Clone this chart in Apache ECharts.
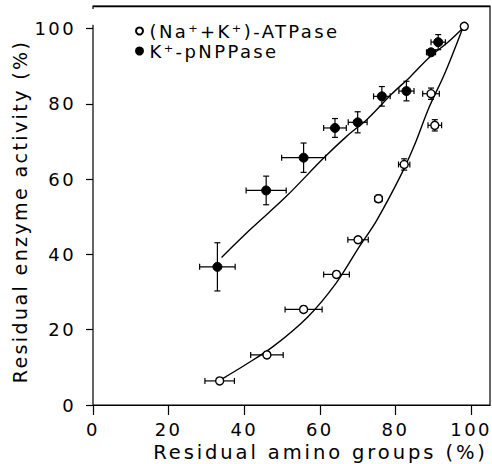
<!DOCTYPE html>
<html>
<head>
<meta charset="utf-8">
<script src="https://cdn.jsdelivr.net/npm/echarts@6/dist/echarts.min.js"></script>
<style>
html,body{margin:0;padding:0;background:#fff;overflow:hidden;}
#chart{width:492px;height:464px;}
#chart svg text{letter-spacing:2.4px;}
#chart svg text[style*="19.5px"]{letter-spacing:2.9px;}
</style>
</head>
<body>
<div id="chart"></div>
<script>
// ---- data ----
const xTicks = [0, 20, 40, 60, 80, 100];
const yTicks = [0, 20, 40, 60, 80, 100];
const xMax = 105;
const yMax = 106;

// K+-pNPPase (filled circles)
const kX    = [32.9, 45.8, 55.7, 64.0, 70.0, 76.4, 82.9, 89.4, 91.3];
const kY    = [36.7, 57.0, 65.7, 73.6, 75.1, 82.0, 83.4, 93.7, 96.4];
const kXErr = [4.7, 5.3, 5.8, 3.0, 2.5, 2.2, 2.0, 1.2, 1.9];
const kYErr = [6.4, 3.8, 3.9, 2.5, 2.8, 2.6, 2.6, 0.8, 2.0];

// (Na+ + K+)-ATPase (open circles)
const aX    = [33.5, 46.0, 55.7, 64.4, 70.1, 75.5, 82.3, 90.4, 89.4, 98.2];
const aY    = [6.4, 13.3, 25.4, 34.7, 43.9, 54.8, 63.9, 74.3, 82.7, 100.6];
const aXErr = [3.9, 4.3, 4.9, 3.4, 2.7, 1.0, 1.5, 1.8, 2.2, 0];
const aYErr = [0.8, 0.8, 0.8, 0.8, 0.8, 1.0, 1.5, 1.5, 1.5, 0];

// hand-drawn curves
const kCurveX = [34, 42, 51, 61, 67, 72.6, 79, 84, 89, 94, 98];
const kCurveY = [39.2, 47, 55.3, 65.6, 71.3, 76, 82.6, 87.3, 92.4, 96.5, 100.3];
const aCurveX = [34.4, 40, 47.6, 56.8, 64.3, 70.4, 75, 81.4, 85, 88.9, 93, 97.7];
const aCurveY = [7.1, 10.5, 15.5, 23.4, 32.4, 42, 49, 61, 69, 79.1, 88, 99.9];

const nameA = '(Na\u207A+K\u207A)-ATPase';
const nameK = 'K\u207A-pNPPase';

const zip = (xs, ys) => xs.map((x, i) => [x, ys[i]]);
const errData = (xs, ys, xe, ye) => xs.map((x, i) => [x, ys[i], xe[i], ye[i]]);

function renderErr(params, api) {
  const x = api.value(0), y = api.value(1), xe = api.value(2), ye = api.value(3);
  const cap = 3;
  const children = [];
  const style = { stroke: '#000', lineWidth: 1.2 };
  if (xe > 0) {
    const l = api.coord([x - xe, y]), r = api.coord([x + xe, y]);
    children.push({ type: 'line', shape: { x1: l[0], y1: l[1], x2: r[0], y2: r[1] }, style });
    children.push({ type: 'line', shape: { x1: l[0], y1: l[1] - cap, x2: l[0], y2: l[1] + cap }, style });
    children.push({ type: 'line', shape: { x1: r[0], y1: r[1] - cap, x2: r[0], y2: r[1] + cap }, style });
  }
  if (ye > 0) {
    const b = api.coord([x, y - ye]), t = api.coord([x, y + ye]);
    children.push({ type: 'line', shape: { x1: b[0], y1: b[1], x2: t[0], y2: t[1] }, style });
    children.push({ type: 'line', shape: { x1: b[0] - cap, y1: b[1], x2: b[0] + cap, y2: b[1] }, style });
    children.push({ type: 'line', shape: { x1: t[0] - cap, y1: t[1], x2: t[0] + cap, y2: t[1] }, style });
  }
  return { type: 'group', children };
}

const FONT = 'DejaVu Sans';
const LINE = { color: '#000', width: 1.2 };
const chart = echarts.init(document.getElementById('chart'), null, { renderer: 'svg' });
chart.setOption({
  backgroundColor: '#fff',
  animation: false,
  textStyle: { fontFamily: FONT, color: '#000' },
  grid: { left: 93, right: 2, top: 6, bottom: 59, containLabel: false, outerBoundsMode: 'none',
          show: true, borderColor: '#000', borderWidth: 1.2, backgroundColor: 'transparent' },
  legend: {
    orient: 'vertical', left: 130, top: 17, itemWidth: 10, itemHeight: 7, itemGap: 2,
    data: [nameA, nameK],
    textStyle: { fontFamily: FONT, fontSize: 18, color: '#000' }
  },
  xAxis: {
    type: 'value', min: 0, max: xMax,
    name: 'Residual amino groups (%)', nameLocation: 'middle', nameGap: 29,
    nameTextStyle: { fontSize: 19.5, fontFamily: FONT, color: '#000', padding: [0, 0, 0, 58] },
    axisLine: { onZero: false, lineStyle: LINE },
    axisTick: { show: true, length: 10, customValues: xTicks, lineStyle: LINE },
    axisLabel: { customValues: xTicks, fontSize: 18, color: '#000', margin: 15, fontFamily: FONT },
    splitLine: { show: false }
  },
  yAxis: {
    type: 'value', min: 0, max: yMax,
    name: 'Residual enzyme activity (%)', nameLocation: 'middle', nameGap: 64, nameRotate: 90,
    nameTextStyle: { fontSize: 19, fontFamily: FONT, color: '#000', padding: [0, 12, 0, 0] },
    axisLine: { show: false, onZero: false },
    axisTick: { show: true, length: 7, customValues: yTicks, lineStyle: LINE },
    axisLabel: { customValues: yTicks, fontSize: 18, color: '#000', margin: 17, fontFamily: FONT },
    splitLine: { show: false }
  },
  series: [
    { type: 'line', data: zip(kCurveX, kCurveY), smooth: 0.35, symbol: 'none', silent: true, clip: false,
      lineStyle: { color: '#000', width: 1.4 }, z: 1,
      markLine: { silent: true, symbol: 'none', label: { show: false }, lineStyle: { color: '#fff', width: 3, type: 'solid' },
        data: [[{ coord: [xTicks[0], yTicks[yTicks.length - 1] + 1] }, { coord: [xTicks[0], yMax - 0.8] }]] } },
    { type: 'line', data: zip(aCurveX, aCurveY), smooth: 0.35, symbol: 'none', silent: true, clip: false,
      lineStyle: { color: '#000', width: 1.4 }, z: 1,
      markLine: { silent: true, symbol: 'none', label: { show: false }, lineStyle: { color: '#000', width: 1.3, type: 'solid' },
        data: [[{ coord: [xTicks[0], yMax] }, { coord: [xMax, yMax] }]] } },
    { type: 'custom', data: errData(kX, kY, kXErr, kYErr), renderItem: renderErr, z: 2, silent: true },
    { type: 'custom', data: errData(aX, aY, aXErr, aYErr), renderItem: renderErr, z: 2, silent: true },
    { name: nameA, type: 'scatter', data: zip(aX, aY), symbol: 'circle', symbolSize: 8,
      itemStyle: { color: '#fff', borderColor: '#000', borderWidth: 1.4, opacity: 1 }, z: 3 },
    { name: nameK, type: 'scatter', data: zip(kX, kY), symbol: 'circle', symbolSize: 9,
      itemStyle: { color: '#000', borderColor: '#000', borderWidth: 1, opacity: 1 }, z: 3 }
  ]
});
</script>
</body>
</html>
